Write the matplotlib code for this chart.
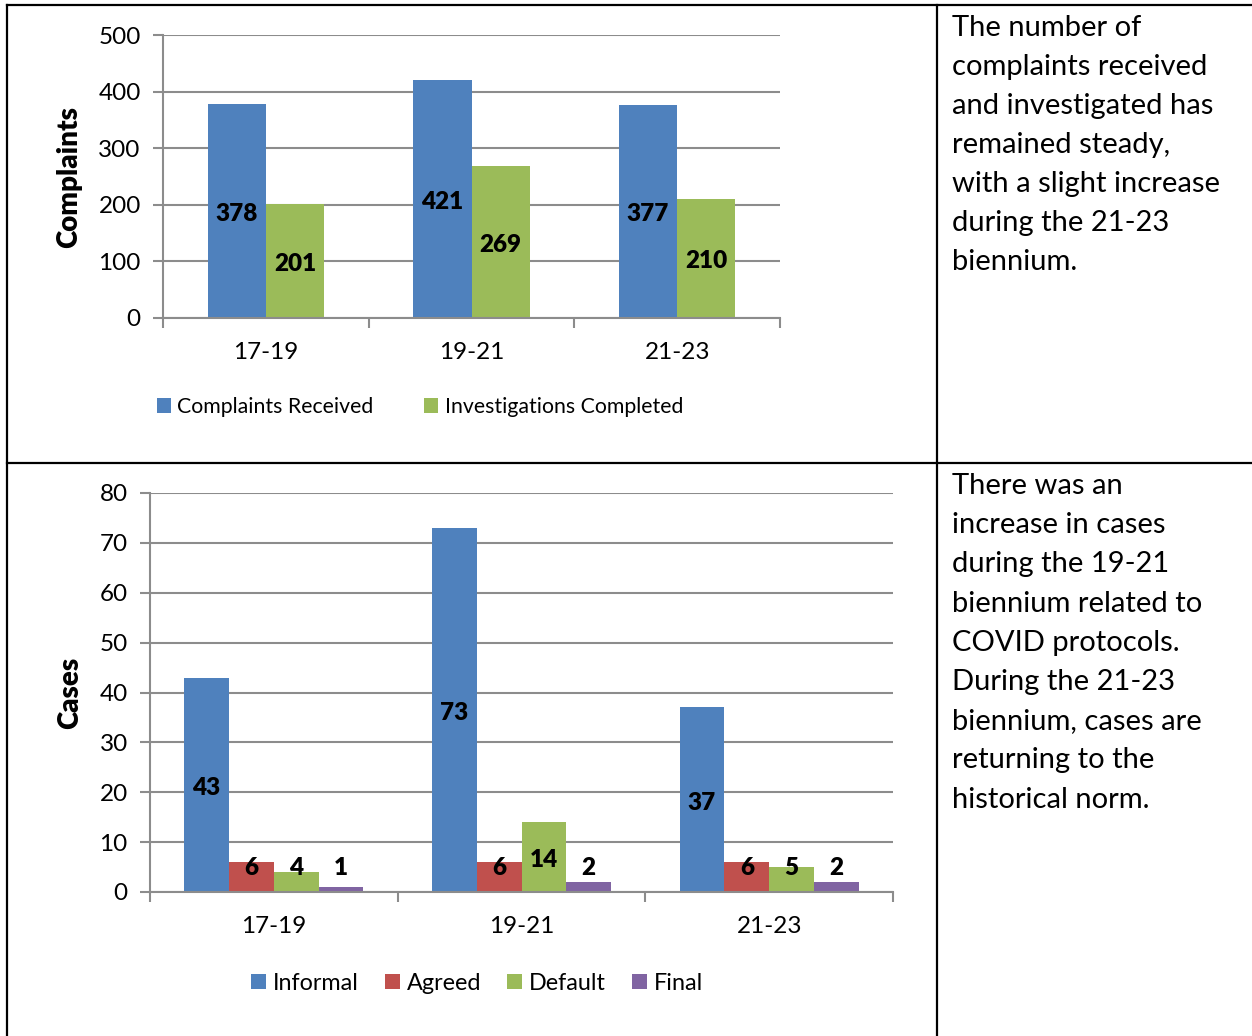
import numpy as np
import matplotlib.pyplot as plt
from matplotlib.lines import Line2D

plt.rcParams['font.family'] = ['Lato', 'DejaVu Sans']

periods = ['17-19', '19-21', '21-23']

# top chart
complaints_received = [378, 421, 377]
investigations_completed = [201, 269, 210]

# bottom chart
case_types = ['Informal', 'Agreed', 'Default', 'Final']
cases = {
    'Informal': [43, 73, 37],
    'Agreed': [6, 6, 6],
    'Default': [4, 14, 5],
    'Final': [1, 2, 2],
}

text_top = ['The number of', 'complaints received', 'and investigated has',
            'remained steady,', 'with a slight increase', 'during the 21-23',
            'biennium.']
text_bottom = ['There was an', 'increase in cases', 'during the 19-21',
               'biennium related to', 'COVID protocols.', 'During the 21-23',
               'biennium, cases are', 'returning to the', 'historical norm.']

BLUE = '#4F81BD'
RED = '#C0504D'
GREEN = '#9BBB59'
PURPLE = '#8064A2'
GRID = '#8C8C8C'
W, H = 1252, 1036


def style_axes(ax, ymax, ystep):
    ax.set_xlim(-0.5, 2.5)
    ax.set_ylim(0, ymax)
    ax.set_yticks(np.arange(0, ymax + 1, ystep))
    ax.yaxis.grid(True, color=GRID, linewidth=1.5)
    ax.set_axisbelow(True)
    for s in ['top', 'right']:
        ax.spines[s].set_visible(False)
    for s in ['left', 'bottom']:
        ax.spines[s].set_color(GRID)
        ax.spines[s].set_linewidth(1.5)
    ax.set_xticks(range(3))
    ax.set_xticklabels(periods)
    ax.set_xticks([-0.5, 0.5, 1.5, 2.5], minor=True)
    ax.tick_params(axis='x', which='major', length=0, pad=17, labelsize=17.5)
    ax.tick_params(axis='x', which='minor', length=7, width=1.5, color=GRID)
    ax.tick_params(axis='y', length=7, width=1.5, color=GRID, labelsize=17.5, pad=9)


def fy(py):
    return 1 - py / H


fig = plt.figure(figsize=(W / 100, H / 100), dpi=100)

# top chart
ax1 = fig.add_axes([163 / W, fy(318), 617 / W, (318 - 35) / H])
style_axes(ax1, 500, 100)
x = np.arange(3)
bw = 0.283
b1 = ax1.bar(x - bw / 2, complaints_received, bw, color=BLUE, label='Complaints Received')
b2 = ax1.bar(x + bw / 2, investigations_completed, bw, color=GREEN, label='Investigations Completed')
for bars, vals in [(b1, complaints_received), (b2, investigations_completed)]:
    for b, v in zip(bars, vals):
        ax1.text(b.get_x() + b.get_width() / 2, v / 2 - 5, str(v), ha='center', va='center',
                 fontsize=17.5, fontweight='heavy')
ax1.set_ylabel('Complaints', fontsize=20, fontweight='heavy', labelpad=12)
fig.legend(handles=[b1, b2], loc='center', bbox_to_anchor=(420 / W, fy(407)), ncol=2,
           frameon=False, fontsize=15.3, handlelength=0.65, handleheight=0.65,
           handletextpad=0.3, columnspacing=2.4)

# bottom chart
ax2 = fig.add_axes([150 / W, fy(892), 743 / W, (892 - 493) / H])
style_axes(ax2, 80, 10)
bw = 0.181
colors = [BLUE, RED, GREEN, PURPLE]
handles = []
for i, (name, c) in enumerate(zip(case_types, colors)):
    vals = cases[name]
    bars = ax2.bar(x + (i - 1.5) * bw, vals, bw, color=c, label=name)
    handles.append(bars)
    for b, v in zip(bars, vals):
        ax2.text(b.get_x() + b.get_width() / 2, max(v / 2, 5.4) - 0.6, str(v), ha='center',
                 va='center', fontsize=17.5, fontweight='heavy')
ax2.set_ylabel('Cases', fontsize=20, fontweight='heavy', labelpad=12)
fig.legend(handles=handles, loc='center', bbox_to_anchor=(477 / W, fy(983)), ncol=4,
           frameon=False, fontsize=16.8, handlelength=0.65, handleheight=0.65,
           handletextpad=0.3, columnspacing=1.1)

# table borders
for xs, ys in [((7, 7), (5, H)), ((7, W), (5, 5)), ((937, 937), (5, H)), ((7, W), (463, 463))]:
    fig.add_artist(Line2D([v / W for v in xs], [fy(v) for v in ys], color='black', linewidth=1.6))

# side text
for i, line in enumerate(text_top):
    fig.text(952 / W, fy(28 + 39 * i), line, fontsize=21, va='center', ha='left')
for i, line in enumerate(text_bottom):
    fig.text(952 / W, fy(486 + 39.2 * i), line, fontsize=21, va='center', ha='left')

fig.savefig('out.png', dpi=100, facecolor='white')
